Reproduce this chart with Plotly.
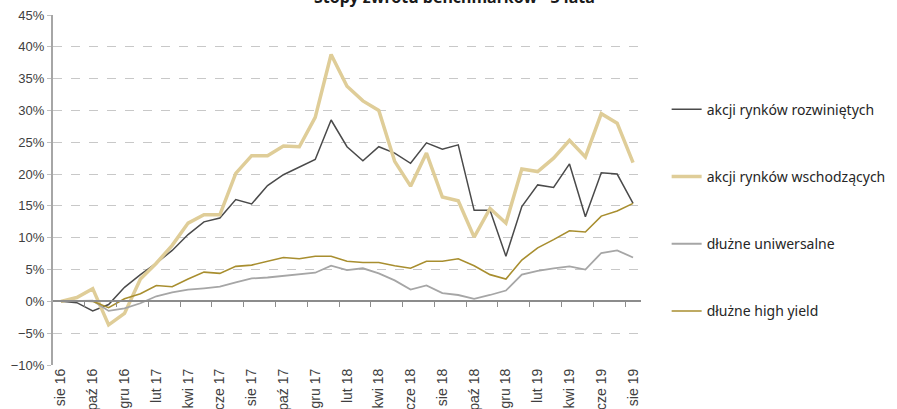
import plotly.graph_objects as go

# miesiace sie 2016 - sie 2019
months = ['sie 16', 'wrz 16', 'paź 16', 'lis 16', 'gru 16', 'sty 17', 'lut 17', 'mar 17',
          'kwi 17', 'maj 17', 'cze 17', 'lip 17', 'sie 17', 'wrz 17', 'paź 17', 'lis 17',
          'gru 17', 'sty 18', 'lut 18', 'mar 18', 'kwi 18', 'maj 18', 'cze 18', 'lip 18',
          'sie 18', 'wrz 18', 'paź 18', 'lis 18', 'gru 18', 'sty 19', 'lut 19', 'mar 19',
          'kwi 19', 'maj 19', 'cze 19', 'lip 19', 'sie 19']

rozwiniete = [0, -0.2, -1.5, -0.5, 2.2, 4.2, 6.0, 8.0, 10.5, 12.5, 13.1, 16.0, 15.3, 18.2,
              19.9, 21.1, 22.3, 28.5, 24.3, 22.1, 24.3, 23.3, 21.7, 24.9, 23.9, 24.6, 14.3,
              14.3, 7.1, 14.9, 18.3, 17.9, 21.6, 13.3, 20.2, 20.0, 15.4]
wschodzace = [0, 0.6, 2.0, -3.7, -1.9, 3.5, 6.0, 8.8, 12.3, 13.6, 13.6, 20.1, 22.9, 22.9,
              24.4, 24.3, 28.9, 38.8, 33.8, 31.5, 30.0, 22.0, 18.1, 23.3, 16.4, 15.8, 10.1,
              14.6, 12.3, 20.8, 20.4, 22.5, 25.3, 22.7, 29.5, 28.0, 21.8]
uniwersalne = [0, 0.1, 0.1, -1.5, -1.1, -0.3, 0.8, 1.4, 1.85, 2.05, 2.3, 3.0, 3.6, 3.75,
               4.0, 4.2, 4.5, 5.6, 4.9, 5.2, 4.4, 3.3, 1.85, 2.5, 1.3, 1.0, 0.4, 1.0, 1.7,
               4.2, 4.8, 5.2, 5.5, 5.0, 7.6, 8.0, 6.9]
high_yield = [0, 0.1, 0.0, -1.0, 0.4, 1.2, 2.5, 2.3, 3.5, 4.6, 4.4, 5.5, 5.7, 6.3, 6.9, 6.7,
              7.1, 7.1, 6.3, 6.1, 6.1, 5.6, 5.2, 6.3, 6.3, 6.7, 5.6, 4.2, 3.5, 6.5, 8.4, 9.7,
              11.1, 10.9, 13.4, 14.2, 15.4]

series = [
    ('akcji rynków rozwiniętych', rozwiniete, '#4a4a4a', 1.5),
    ('akcji rynków wschodzących', wschodzace, '#dfcd98', 3.5),
    ('dłużne uniwersalne', uniwersalne, '#a6a6a6', 1.8),
    ('dłużne high yield', high_yield, '#a88e2f', 1.6),
]

fig = go.Figure()
for name, vals, color, w in series:
    fig.add_trace(go.Scatter(x=list(range(len(months))), y=[v / 100 for v in vals], name=name,
                             mode='lines', line=dict(color=color, width=w),
                             legendgroup=name))

# os x przy zerze - tylko znaczniki miedzy kategoriami
fig.add_trace(go.Scatter(x=[0], y=[None], xaxis='x2', showlegend=False, hoverinfo='skip'))

# tytul - w oryginale uciety u gory
fig.add_annotation(text='<b>Stopy zwrotu benchmarków - 3 lata</b>', xref='paper', yref='paper',
                   x=0.682, y=1.0, xanchor='center', yanchor='bottom', yshift=5,
                   showarrow=False, font=dict(family='Noto Sans', size=16, color='#1a1a1a'))

fig.update_layout(
    width=897, height=409,
    margin=dict(l=53, r=256, t=15, b=44, autoexpand=False),
    paper_bgcolor='white', plot_bgcolor='white',
    font=dict(family='Liberation Sans', size=13, color='#404040'),
    xaxis=dict(range=[-0.5, 36.5], tickmode='array', tickvals=list(range(0, len(months), 2)),
               ticktext=months[::2], tickangle=-90, showgrid=False, zeroline=False,
               showline=False, ticks='', automargin=False, ticklabeloverflow='allow',
               tickfont=dict(size=14, color='#404040')),
    xaxis2=dict(range=[-0.5, 36.5], overlaying='x', anchor='free', position=10 / 55,
                showline=True, linecolor='#8c8c8c', linewidth=2, ticks='outside', ticklen=5,
                tickcolor='#8c8c8c', tickwidth=1, tickmode='array', automargin=False,
                tickvals=[i + 0.5 for i in range(1, len(months) - 1, 2)],
                showticklabels=False, showgrid=False, zeroline=False),
    yaxis=dict(range=[-0.1, 0.45], tickmode='array', tickvals=[i / 100 for i in range(-10, 46, 5)],
               tickformat='.0%', showgrid=True, gridcolor='#c8c8c8', griddash='dash',
               gridwidth=1, zeroline=False, showline=True, linecolor='#a6a6a6', linewidth=2,
               ticks='outside', ticklen=4, tickcolor='#bfbfbf', automargin=False,
               ticklabeloverflow='allow', tickfont=dict(size=13, color='#404040')),
    legend=dict(x=1.0436, xanchor='left', y=0.775, yanchor='top', tracegroupgap=46,
                font=dict(family='Noto Sans', size=14, color='#262626'),
                bgcolor='rgba(0,0,0,0)', itemwidth=30),
    showlegend=True,
)

# bez domyslnego marginesu strony, zeby wykres zaczynal sie w rogu okna
fig.write_html('out.html', config={'displayModeBar': False},
               post_script="document.body.style.margin='0';")
